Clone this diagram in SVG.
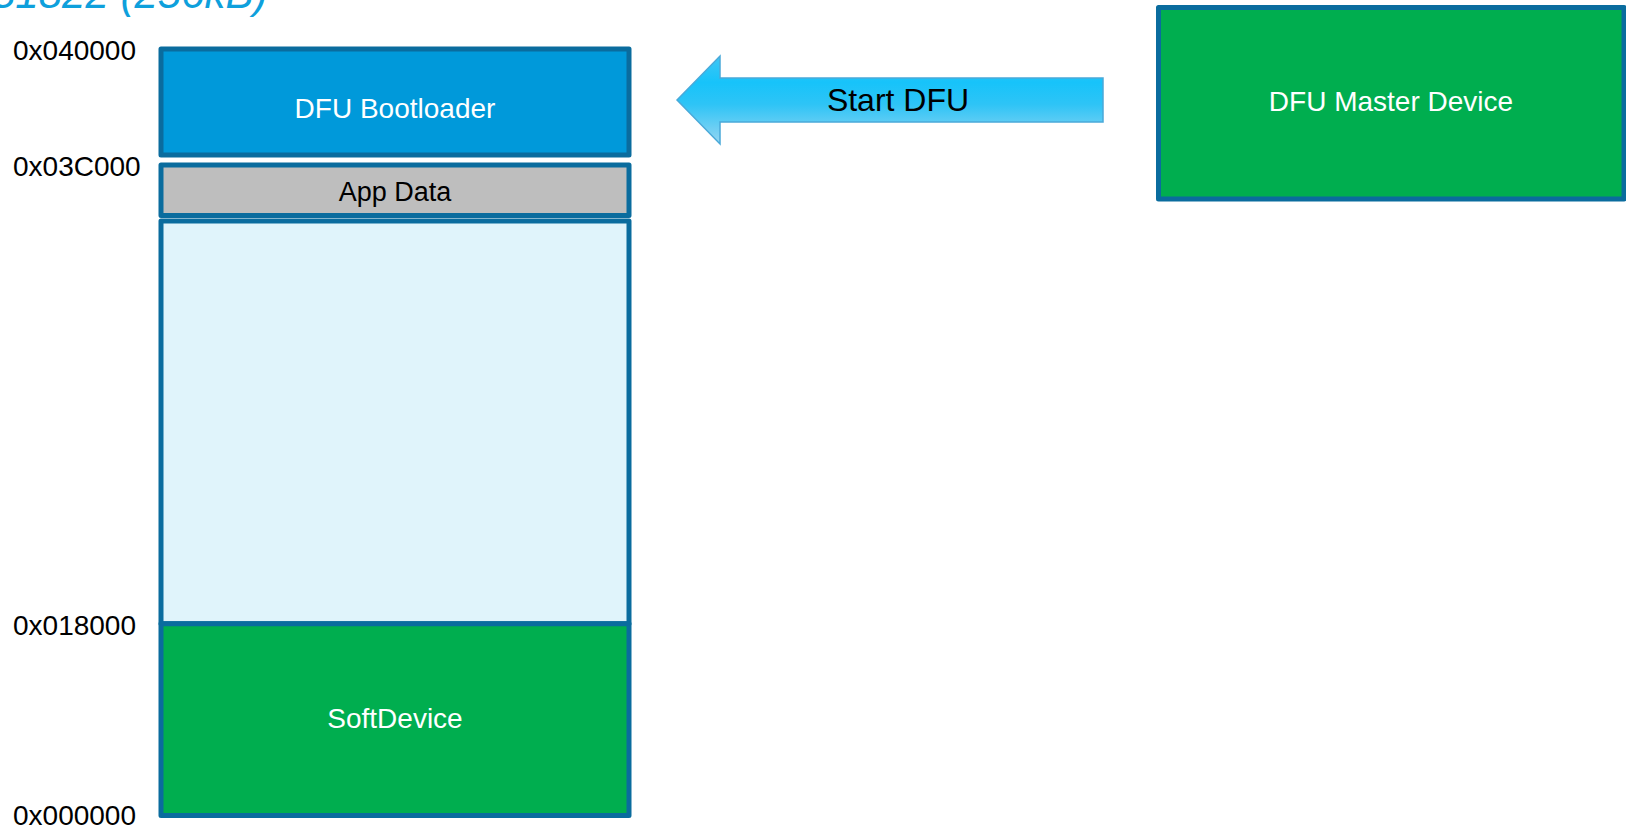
<svg xmlns="http://www.w3.org/2000/svg" width="1626" height="829" viewBox="0 0 1626 829">
  <defs>
    <linearGradient id="arrowGrad" x1="0" y1="0" x2="0" y2="1">
      <stop offset="0" stop-color="#3FC6F4"/>
      <stop offset="0.3" stop-color="#17C3FA"/>
      <stop offset="0.55" stop-color="#2EC4F6"/>
      <stop offset="1" stop-color="#96D6F2"/>
    </linearGradient>
  </defs>
  <style>
    .blk { stroke: #0A6C9E; stroke-width: 5; stroke-linejoin: round; }
    .lbl { font-family: "Liberation Sans", Arial, sans-serif; font-size: 28px; fill: #000000; }
    .wt { font-family: "Liberation Sans", Arial, sans-serif; font-size: 28px; fill: #FFFFFF; text-anchor: middle; }
    .bk { font-family: "Liberation Sans", Arial, sans-serif; font-size: 27px; fill: #000000; text-anchor: middle; }
  </style>
  <rect width="1626" height="829" fill="#FFFFFF"/>
  <text id="title" x="-8" y="8" font-family="Liberation Sans, Arial, sans-serif" font-size="42" font-style="italic" fill="#0EA0DC">51822 (256kB)</text>

  <g id="addresses">
    <text class="lbl" x="13" y="60">0x040000</text>
    <text class="lbl" x="13" y="176">0x03C000</text>
    <text class="lbl" x="13" y="635">0x018000</text>
    <text class="lbl" x="13" y="825">0x000000</text>
  </g>

  <g id="bootloader">
    <rect class="blk" x="161" y="49" width="468" height="106" fill="#0099DA"/>
    <text class="wt" x="395" y="118">DFU Bootloader</text>
  </g>
  <g id="appdata">
    <rect class="blk" x="161" y="165" width="468" height="50.5" fill="#BEBEBE"/>
    <text class="bk" x="395" y="201">App Data</text>
  </g>
  <g id="application">
    <rect class="blk" x="161" y="221" width="468" height="402.7" fill="#E0F4FB"/>
  </g>
  <g id="softdevice">
    <rect class="blk" x="161" y="623.7" width="468" height="191.8" fill="#00AE4F"/>
    <text class="wt" x="395" y="728">SoftDevice</text>
  </g>
  <g id="master">
    <rect class="blk" x="1158.5" y="7.5" width="465.5" height="191.5" fill="#00AE4F"/>
    <text class="wt" x="1391" y="111">DFU Master Device</text>
  </g>

  <g id="connectors">
    <path d="M677,100 L720,56 L720,78 L1103,78 L1103,122 L720,122 L720,144 Z" fill="url(#arrowGrad)" stroke="#4AA9D9" stroke-width="1.5" stroke-linejoin="miter"/>
    <text x="898" y="111" font-family="Liberation Sans, Arial, sans-serif" font-size="32" fill="#000000" text-anchor="middle">Start DFU</text>
  </g>
</svg>
